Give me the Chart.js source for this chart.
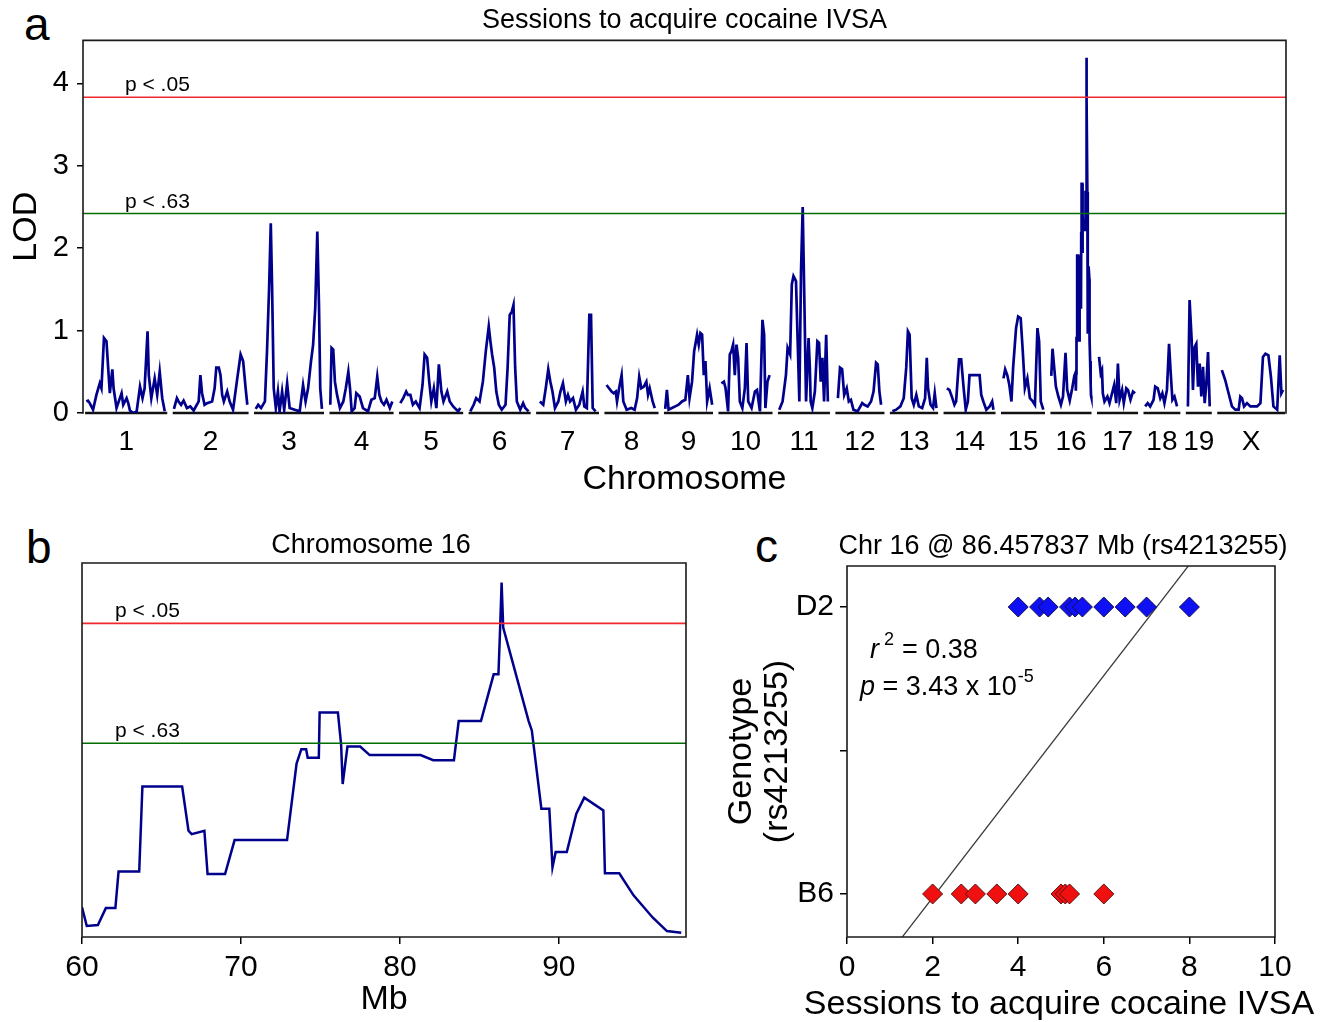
<!DOCTYPE html>
<html>
<head>
<meta charset="utf-8">
<title>IVSA QTL</title>
<script src="https://cdn.jsdelivr.net/npm/chart.js@4.4.1/dist/chart.umd.min.js"></script>
<style>
  html, body { margin: 0; padding: 0; background: #fff; }
  #page { position: relative; width: 1334px; height: 1022px; overflow: hidden;
          font-family: "Liberation Sans", Arial, sans-serif; }
  .panel { position: absolute; }
  .letter { position: absolute; font-size: 46px; line-height: 46px; color: #000; }
</style>
</head>
<body>
<div id="page">
  <div class="letter" style="left:24px;top:1px">a</div>
  <div class="letter" style="left:26px;top:524px">b</div>
  <div class="letter" style="left:755px;top:523px">c</div>
  <div class="panel" style="left:0;top:0"><canvas id="chartA" width="1334" height="500"></canvas></div>
  <div class="panel" style="left:56px;top:520px"><canvas id="chartB" width="680" height="500"></canvas></div>
  <div class="panel" style="left:720px;top:520px"><canvas id="chartC" width="614" height="500"></canvas></div>
</div>
<script>
// ---------- panel a : genome scan ----------
const chromNames = ['1','2','3','4','5','6','7','8','9','10','11','12','13','14','15','16','17','18','19','X'];
const chromLengths = [196,181,167,153,153,148,150,129,117,129,124,117,115,124,105,98,98,88,62,162]; // Mb
const chromGap = 13;
const genomeStart = 5;
const lodThresholdP05 = 3.83;
const lodThresholdP63 = 2.42;

// [Mb within chromosome, LOD]
const lodChr1 = [[3,0.14],[7,0.15],[11,0.12],[19,0.04],[27,0.22],[35,0.36],[39,0.30],[45,0.91],[51,0.87],[55,0.55],[59,0.24],[65,0.53],[68,0.30],[75,0.06],[83,0.18],[87,0.24],[91,0.10],[99,0.18],[103,0.12],[107,0.03],[115,0.0],[123,0.02],[131,0.32],[137,0.18],[142,0.30],[149,0.99],[152,0.46],[158,0.18],[166,0.42],[172,0.22],[178,0.50],[184,0.18],[190,0.02]];
const lodChr2 = [[3,0.05],[10,0.18],[14,0.14],[20,0.10],[26,0.15],[34,0.06],[42,0.08],[50,0.03],[62,0.14],[66,0.46],[70,0.24],[76,0.10],[82,0.12],[94,0.14],[100,0.30],[104,0.55],[110,0.55],[114,0.46],[118,0.22],[122,0.14],[130,0.26],[136,0.14],[144,0.04],[153,0.38],[162,0.71],[168,0.63],[174,0.30],[178,0.10]];
const lodChr3 = [[4,0.05],[10,0.10],[17,0.06],[26,0.14],[31,0.75],[36,1.52],[40,2.30],[43,1.56],[47,0.30],[52,0.06],[57,0.26],[61,0.02],[67,0.26],[72,0.04],[79,0.36],[85,0.06],[97,0.04],[109,0.02],[117,0.34],[123,0.14],[129,0.30],[136,0.63],[141,0.83],[146,1.27],[151,2.20],[155,1.31],[158,0.30],[162,0.05]];
const lodChr4 = [[2,0.10],[5,0.79],[9,0.77],[13,0.38],[18,0.22],[25,0.06],[33,0.14],[39,0.30],[45,0.50],[49,0.30],[53,0.02],[60,0.06],[64,0.24],[72,0.20],[80,0.06],[92,0.02],[100,0.16],[108,0.18],[114,0.44],[119,0.22],[124,0.14],[130,0.10],[136,0.16],[144,0.06],[150,0.14]];
const lodChr5 = [[3,0.12],[10,0.18],[17,0.26],[21,0.22],[27,0.22],[33,0.10],[40,0.14],[49,0.06],[56,0.34],[61,0.71],[67,0.67],[72,0.38],[77,0.14],[83,0.30],[89,0.06],[95,0.59],[101,0.26],[106,0.14],[115,0.26],[121,0.14],[129,0.08],[141,0.02],[146,0.06]];
const lodChr6 = [[4,0.02],[12,0.10],[18,0.18],[26,0.14],[34,0.38],[41,0.75],[48,1.05],[52,0.87],[56,0.71],[61,0.55],[66,0.26],[72,0.10],[79,0.04],[88,0.10],[93,0.55],[98,1.19],[103,1.23],[107,1.31],[111,0.55],[115,0.14],[123,0.04],[130,0.12],[135,0.06],[143,0.02]];
const lodChr7 = [[9,0.14],[17,0.10],[23,0.30],[29,0.53],[34,0.38],[39,0.26],[45,0.06],[53,0.14],[58,0.26],[64,0.36],[71,0.14],[76,0.22],[81,0.14],[88,0.18],[95,0.04],[103,0.10],[111,0.26],[115,0.08],[121,0.06],[127,1.19],[131,1.19],[135,0.06],[142,0.02]];
const lodChr8 = [[5,0.34],[11,0.30],[17,0.26],[22,0.24],[27,0.26],[30,0.14],[35,0.30],[41,0.46],[45,0.14],[53,0.04],[64,0.06],[72,0.04],[78,0.18],[83,0.44],[88,0.30],[94,0.32],[100,0.38],[104,0.22],[108,0.30],[115,0.14],[120,0.06]];
const lodChr9 = [[3,0.05],[7,0.28],[11,0.04],[19,0.06],[27,0.08],[35,0.10],[43,0.14],[51,0.16],[57,0.46],[61,0.18],[67,0.38],[72,0.75],[79,0.95],[83,0.83],[87,0.97],[91,0.95],[95,0.46],[99,0.63],[103,0.14],[109,0.30],[115,0.10]];
const lodChr10 = [[7,0.36],[13,0.38],[17,0.30],[23,0.02],[27,0.71],[31,0.75],[35,0.83],[39,0.46],[43,0.83],[47,0.67],[51,0.14],[57,0.06],[63,0.30],[67,0.85],[71,0.14],[79,0.06],[87,0.26],[92,0.28],[99,0.02],[105,1.13],[109,0.95],[112,0.06],[117,0.38],[122,0.46]];
const lodChr11 = [[3,0.04],[11,0.14],[19,0.46],[23,0.79],[29,0.71],[33,1.56],[37,1.66],[43,1.60],[47,0.87],[51,0.14],[55,1.72],[59,2.50],[63,1.35],[67,0.14],[73,0.91],[76,0.55],[78,0.14],[82,0.06],[88,0.26],[94,0.87],[98,0.85],[102,0.38],[106,0.67],[110,0.14],[115,0.95],[119,0.14]];
const lodChr12 = [[6,0.18],[11,0.55],[16,0.53],[21,0.22],[27,0.30],[32,0.14],[37,0.16],[43,0.04],[53,0.02],[64,0.12],[69,0.10],[77,0.08],[85,0.14],[91,0.26],[97,0.61],[101,0.59],[105,0.26],[109,0.10]];
const lodChr13 = [[6,0.02],[15,0.04],[25,0.08],[33,0.18],[39,0.55],[43,0.99],[47,0.95],[52,0.18],[57,0.10],[63,0.22],[69,0.08],[77,0.06],[84,0.18],[88,0.67],[91,0.30],[97,0.10],[103,0.06],[107,0.24],[111,0.06]];
const lodChr14 = [[8,0.30],[14,0.28],[21,0.18],[26,0.10],[30,0.14],[37,0.65],[42,0.65],[48,0.30],[53,0.04],[58,0.14],[62,0.46],[74,0.46],[86,0.46],[90,0.22],[95,0.14],[102,0.04],[110,0.08],[116,0.14],[119,0.04]];
const lodChr15 = [[6,0.42],[10,0.53],[15,0.46],[20,0.34],[25,0.14],[29,0.55],[36,1.03],[41,1.17],[47,1.15],[52,0.75],[57,0.30],[63,0.42],[69,0.18],[76,0.14],[81,0.10],[87,1.03],[91,0.87],[95,0.14],[101,0.04]];
const lodChr16Start = [[2,0.45],[5,0.78],[9,0.55],[13,0.32],[19,0.20],[25,0.10],[30,0.20],[36,0.73],[40,0.28],[46,0.15],[52,0.30],[57,0.45]];
const lodChr17 = [[5,0.68],[9,0.48],[12,0.52],[14,0.24],[18,0.14],[25,0.20],[30,0.12],[36,0.24],[41,0.34],[46,0.12],[50,0.60],[54,0.16],[60,0.28],[64,0.12],[70,0.30],[74,0.28],[80,0.16],[86,0.26],[91,0.24]];
const lodChr18 = [[4,0.08],[10,0.12],[16,0.08],[24,0.16],[28,0.32],[34,0.30],[40,0.18],[45,0.24],[50,0.12],[56,0.28],[61,0.84],[65,0.48],[69,0.16],[74,0.20],[80,0.08]];
const lodChr19 = [[5,0.08],[9,1.37],[14,0.88],[17,0.28],[21,0.80],[25,0.84],[29,0.32],[33,0.60],[37,0.20],[41,0.56],[45,0.12],[49,0.36],[53,0.74],[57,0.08]];
const lodChrX = [[11,0.52],[19,0.40],[27,0.24],[35,0.08],[43,0.04],[51,0.04],[55,0.20],[59,0.18],[64,0.08],[71,0.12],[79,0.08],[87,0.08],[95,0.08],[103,0.12],[109,0.68],[115,0.72],[122,0.70],[128,0.44],[134,0.08],[143,0.04],[149,0.70],[153,0.24],[157,0.28]];

// ---------- panel b : chromosome 16 close-up ----------
const chr16Mb  = [60,60.3,61.0,61.5,62.1,62.3,63.6,63.8,66.3,66.7,66.9,67.7,67.9,69.0,69.6,72.9,73.5,73.8,74.1,74.2,74.9,74.95,76.1,76.3,76.4,76.7,77.5,78.1,81.3,82.1,83.4,83.7,85.1,85.9,86.2,86.3,86.4,86.5,88.1,88.3,88.9,89.4,89.6,89.8,90.5,91.1,91.6,92.8,92.9,93.8,94.7,95.9,96.8,97.7];
const chr16Lod = [0.49,0.27,0.28,0.48,0.48,0.91,0.91,1.91,1.91,1.39,1.35,1.39,0.88,0.88,1.28,1.28,2.18,2.35,2.35,2.25,2.25,2.78,2.78,2.41,1.94,2.38,2.38,2.28,2.28,2.22,2.22,2.68,2.68,3.23,3.23,3.74,4.31,3.78,2.68,2.57,1.65,1.65,0.96,1.14,1.14,1.59,1.78,1.63,0.89,0.89,0.63,0.37,0.21,0.19];
const chr16MbTicks = [60, 70, 80, 90];

// ---------- panel c : genotype vs sessions ----------
const genotypeTicks = ['B6', '', 'D2'];
const sessionsD2 = [4, 4.5, 4.7, 5.2, 5.33, 5.5, 6, 6.5, 7, 8];
const sessionsB6 = [2, 2.67, 3, 3.5, 4, 5, 5.1, 5.2, 6];
const fitSlope = 0.387;
const fitIntercept = -0.80;

const NAVY = '#00008c', RED = '#f0282d', GREEN = '#006e00';
const FONT = '"Liberation Sans", Arial, sans-serif';
Chart.defaults.font.family = FONT;
Chart.defaults.color = '#000';

// box around the plot area
const frame = {
  id: 'frame',
  afterDraw(chart, args, opts) {
    const { ctx, chartArea: a } = chart;
    const s = opts.sides || [];
    ctx.save();
    ctx.strokeStyle = '#1a1a1a';
    ctx.lineWidth = 1.6;
    ctx.lineCap = 'square';
    ctx.beginPath();
    if (s.includes('top'))    { ctx.moveTo(a.left, a.top);    ctx.lineTo(a.right, a.top); }
    if (s.includes('bottom')) { ctx.moveTo(a.left, a.bottom); ctx.lineTo(a.right, a.bottom); }
    if (s.includes('left'))   { ctx.moveTo(a.left, a.top);    ctx.lineTo(a.left, a.bottom); }
    if (s.includes('right'))  { ctx.moveTo(a.right, a.top);   ctx.lineTo(a.right, a.bottom); }
    ctx.stroke();
    ctx.restore();
  }
};

function thresholdLabels(chart, dx) {
  const { ctx, chartArea, scales } = chart;
  ctx.save();
  ctx.font = '21px ' + FONT;
  ctx.fillStyle = '#000';
  ctx.textBaseline = 'alphabetic';
  ctx.fillText('p < .05', chartArea.left + dx, scales.y.getPixelForValue(lodThresholdP05) - 6);
  ctx.fillText('p < .63', chartArea.left + dx, scales.y.getPixelForValue(lodThresholdP63) - 6);
  ctx.restore();
}

// genome-wide positions
const chromStarts = [];
let pos = genomeStart;
chromLengths.forEach((len) => { chromStarts.push(pos); pos += len + chromGap; });
const genomeEnd = pos - chromGap + 2;
const chromMids = chromStarts.map((s, i) => s + chromLengths[i] / 2);

const lodByChrom = [lodChr1, lodChr2, lodChr3, lodChr4, lodChr5, lodChr6, lodChr7, lodChr8, lodChr9, lodChr10,
  lodChr11, lodChr12, lodChr13, lodChr14, lodChr15,
  lodChr16Start.concat(chr16Mb.map((mb, i) => [mb, chr16Lod[i]])),
  lodChr17, lodChr18, lodChr19, lodChrX];

const lodPoints = [];
const basePoints = [];
lodByChrom.forEach((rows, i) => {
  const s = chromStarts[i];
  rows.forEach(([mb, lod]) => lodPoints.push({ x: s + mb, y: lod }));
  lodPoints.push({ x: s + chromLengths[i], y: null });
  basePoints.push({ x: s, y: 0 }, { x: s + chromLengths[i], y: 0 }, { x: s + chromLengths[i], y: null });
});

new Chart(document.getElementById('chartA'), {
  type: 'line',
  data: {
    datasets: [
      { data: [{ x: 0, y: lodThresholdP05 }, { x: genomeEnd, y: lodThresholdP05 }], borderColor: RED, borderWidth: 1.6, pointRadius: 0 },
      { data: [{ x: 0, y: lodThresholdP63 }, { x: genomeEnd, y: lodThresholdP63 }], borderColor: GREEN, borderWidth: 1.6, pointRadius: 0 },
      { data: lodPoints, borderColor: NAVY, borderWidth: 2.7, pointRadius: 0, spanGaps: false },
      { data: basePoints, borderColor: '#111', borderWidth: 2.5, pointRadius: 0, spanGaps: false, clip: false }
    ]
  },
  options: {
    responsive: false,
    animation: false,
    events: [],
    layout: { padding: { left: 0, right: 48, top: 0, bottom: 0 } },
    plugins: {
      legend: { display: false },
      tooltip: { enabled: false },
      title: { display: true, text: 'Sessions to acquire cocaine IVSA', fullSize: false,
               font: { size: 27, weight: 'normal' }, color: '#000', padding: { top: 4, bottom: 4 } },
      frame: { sides: ['left', 'top', 'right'] }
    },
    scales: {
      x: {
        type: 'linear', min: 0, max: genomeEnd,
        afterBuildTicks: (s) => { s.ticks = chromMids.map((v) => ({ value: v })); },
        afterFit: (s) => { s.height = 87; },
        ticks: { autoSkip: false, maxRotation: 0, minRotation: 0, padding: 12,
                 font: { size: 28 }, color: '#000', callback: (v, i) => chromNames[i] },
        grid: { display: false, drawTicks: false },
        border: { display: false },
        title: { display: true, text: 'Chromosome', font: { size: 34 }, color: '#000', padding: { top: 0, bottom: 0 } }
      },
      y: {
        min: 0, max: 4.52,
        afterFit: (s) => { s.width = 83; },
        ticks: { stepSize: 1, includeBounds: false, padding: 8, font: { size: 29 }, color: '#000' },
        grid: { drawOnChartArea: false, drawTicks: true, tickLength: 6, color: '#000', lineWidth: 1.5 },
        border: { display: false },
        title: { display: true, text: 'LOD', font: { size: 34 }, color: '#000', padding: { top: 6, bottom: 0 } }
      }
    }
  },
  plugins: [frame, { id: 'labelsA', afterDatasetsDraw: (c) => thresholdLabels(c, 42) }]
});

// ---------- panel b ----------
const chr16Points = chr16Mb.map((mb, i) => ({ x: mb, y: chr16Lod[i] }));

new Chart(document.getElementById('chartB'), {
  type: 'line',
  data: {
    datasets: [
      { data: [{ x: 60, y: lodThresholdP05 }, { x: 98, y: lodThresholdP05 }], borderColor: RED, borderWidth: 1.6, pointRadius: 0 },
      { data: [{ x: 60, y: lodThresholdP63 }, { x: 98, y: lodThresholdP63 }], borderColor: GREEN, borderWidth: 1.6, pointRadius: 0 },
      { data: chr16Points, borderColor: NAVY, borderWidth: 2.5, pointRadius: 0 }
    ]
  },
  options: {
    responsive: false,
    animation: false,
    events: [],
    layout: { padding: { left: 0, right: 50, top: 0, bottom: 0 } },
    plugins: {
      legend: { display: false },
      tooltip: { enabled: false },
      title: { display: true, text: 'Chromosome 16', font: { size: 27, weight: 'normal' }, color: '#000',
               padding: { top: 9, bottom: 1.6 } },
      frame: { sides: ['left', 'top', 'right', 'bottom'] }
    },
    scales: {
      x: {
        type: 'linear', min: 60, max: 98,
        afterBuildTicks: (s) => { s.ticks = chr16MbTicks.map((v) => ({ value: v })); },
        afterFit: (s) => { s.height = 83; },
        ticks: { autoSkip: false, maxRotation: 0, padding: 6, font: { size: 30 }, color: '#000' },
        grid: { drawOnChartArea: false, drawTicks: true, tickLength: 7, color: '#000', lineWidth: 1.5 },
        border: { display: false },
        title: { display: true, text: 'Mb', font: { size: 34 }, color: '#000', padding: { top: 0, bottom: 0 } }
      },
      y: {
        min: 0.14, max: 4.54,
        afterFit: (s) => { s.width = 26; },
        ticks: { display: false },
        grid: { display: false },
        border: { display: false }
      }
    }
  },
  plugins: [frame, { id: 'labelsB', afterDatasetsDraw: (c) => thresholdLabels(c, 33) }]
});

// ---------- panel c ----------
const d2Points = sessionsD2.map((v) => ({ x: v, y: 2 }));
const b6Points = sessionsB6.map((v) => ({ x: v, y: 0 }));
const fitPoints = [0, 10].map((v) => ({ x: v, y: fitSlope * v + fitIntercept }));

function annotC(chart) {
  const { ctx, chartArea: a } = chart;
  const cx = (a.left + a.right) / 2;
  ctx.save();
  ctx.fillStyle = '#000';
  ctx.textAlign = 'center';
  ctx.textBaseline = 'middle';
  ctx.font = '27px ' + FONT;
  ctx.fillText('Chr 16 @ 86.457837 Mb (rs4213255)', cx + 2, 27);
  ctx.font = '34px ' + FONT;
  ctx.fillText('Sessions to acquire cocaine IVSA', cx - 2, 485);

  ctx.textAlign = 'left';
  ctx.textBaseline = 'alphabetic';
  // r^2 line
  let x = a.left + 23, y = a.top + 92;
  ctx.font = 'italic 27px ' + FONT;
  ctx.fillText('r', x, y);
  x += ctx.measureText('r').width + 5;
  ctx.font = '18px ' + FONT;
  ctx.fillText('2', x, y - 13);
  x += ctx.measureText('2').width + 8;
  ctx.font = '27px ' + FONT;
  ctx.fillText('= 0.38', x, y);
  // p line
  x = a.left + 13; y = a.top + 129;
  ctx.font = 'italic 27px ' + FONT;
  ctx.fillText('p', x, y);
  x += ctx.measureText('p ').width;
  ctx.font = '27px ' + FONT;
  ctx.fillText('= 3.43 x 10', x, y);
  x += ctx.measureText('= 3.43 x 10').width + 1;
  ctx.font = '18px ' + FONT;
  ctx.fillText('-5', x, y - 13);
  ctx.restore();
}

new Chart(document.getElementById('chartC'), {
  type: 'scatter',
  data: {
    datasets: [
      { data: d2Points, pointStyle: 'rectRot', pointRadius: 10, backgroundColor: '#1010f5', borderColor: '#10104a', borderWidth: 1 },
      { data: b6Points, pointStyle: 'rectRot', pointRadius: 10, backgroundColor: '#f01010', borderColor: '#5a1010', borderWidth: 1 },
      { data: fitPoints, showLine: true, borderColor: '#3a3a3a', borderWidth: 1.3, pointRadius: 0 }
    ]
  },
  options: {
    responsive: false,
    animation: false,
    events: [],
    layout: { padding: { left: 0, right: 59, top: 46, bottom: 0 } },
    plugins: {
      legend: { display: false },
      tooltip: { enabled: false },
      frame: { sides: ['left', 'top', 'right', 'bottom'] }
    },
    scales: {
      x: {
        type: 'linear', min: 0, max: 10,
        afterFit: (s) => { s.height = 83; },
        ticks: { stepSize: 2, padding: 6, font: { size: 30 }, color: '#000' },
        grid: { drawOnChartArea: false, drawTicks: true, tickLength: 7, color: '#000', lineWidth: 1.5 },
        border: { display: false }
      },
      y: {
        min: -0.30, max: 2.286,
        afterBuildTicks: (s) => { s.ticks = genotypeTicks.map((t, i) => ({ value: i })); },
        afterFit: (s) => { s.width = 127; },
        ticks: { autoSkip: false, padding: 6, font: { size: 30 }, color: '#000', callback: (v, i) => genotypeTicks[i] },
        grid: { drawOnChartArea: false, drawTicks: true, tickLength: 7, color: '#000', lineWidth: 1.5 },
        border: { display: false },
        title: { display: true, text: ['Genotype', '(rs4213255)'], font: { size: 34, lineHeight: 1.05 }, color: '#000',
                 padding: { top: 4, bottom: 0 } }
      }
    }
  },
  plugins: [frame, { id: 'labelsC', afterDatasetsDraw: annotC }]
});
</script>
</body>
</html>
